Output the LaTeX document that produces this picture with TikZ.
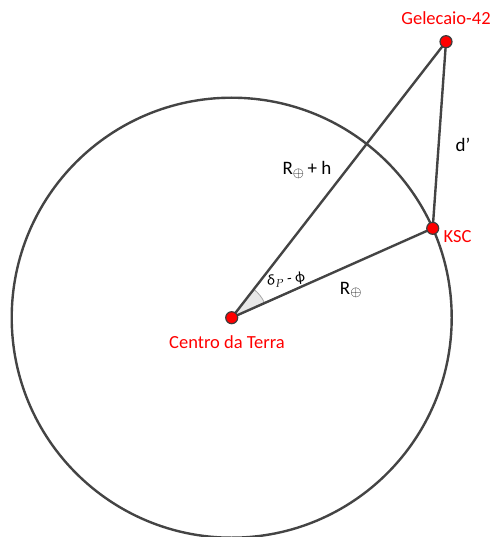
\documentclass[tikz,border=0pt]{standalone}
\usepackage{fontspec}
\setmainfont{Carlito}
\usetikzlibrary{angles}
\definecolor{ln}{HTML}{444444}
\tikzset{
  edge/.style={draw=ln, line width=2.4pt},
  dot/.style={circle, fill=red, draw=ln!90!black, line width=1.2pt, minimum size=12pt, inner sep=0pt},
  redlbl/.style={text=red, font=\fontsize{18.5}{21}\selectfont, inner sep=0pt},
  blklbl/.style={text=black, font=\fontsize{19}{22}\selectfont, inner sep=0pt}
}
\begin{document}
\begin{tikzpicture}[x=1pt,y=-1pt]
\useasboundingbox (0,0) rectangle (496,537);
\coordinate (O) at (231.7,317.7);
\coordinate (K) at (432.7,228.3);
\coordinate (G) at (446,41.7);
\draw[ln, line width=2.4pt] (O) circle[radius=220pt];
\pic[draw=gray!70, fill=gray!18, line width=0.8pt, angle radius=36pt] {angle = K--O--G};
\draw[edge] (O) -- (G);
\draw[edge] (O) -- (K);
\draw[edge] (K) -- (G);
\node[dot] (o) at (O) {};
\node[dot] (k) at (K) {};
\node[dot] (g) at (G) {};
\node[redlbl] (lg) at (446,18) {Gelecaio-42};
\node[redlbl, anchor=west] (lk) at (443.5,237) {KSC};
\node[redlbl] (lo) at (227,342.5) {Centro da Terra};
\node[blklbl] (ld) at (463,145) {d’};
\node[blklbl] (lrh) at (307,170) {R$_{\scriptstyle\oplus}$\,+ h};
\node[blklbl] (lr) at (351,290) {R$_{\scriptstyle\oplus}$};
\node[text=black, font=\fontsize{15}{17}\selectfont, inner sep=0pt, rotate=6] (la) at (286,280) {\textit{δ}$_{\scriptstyle P}$ - ϕ};
\end{tikzpicture}
\end{document}
